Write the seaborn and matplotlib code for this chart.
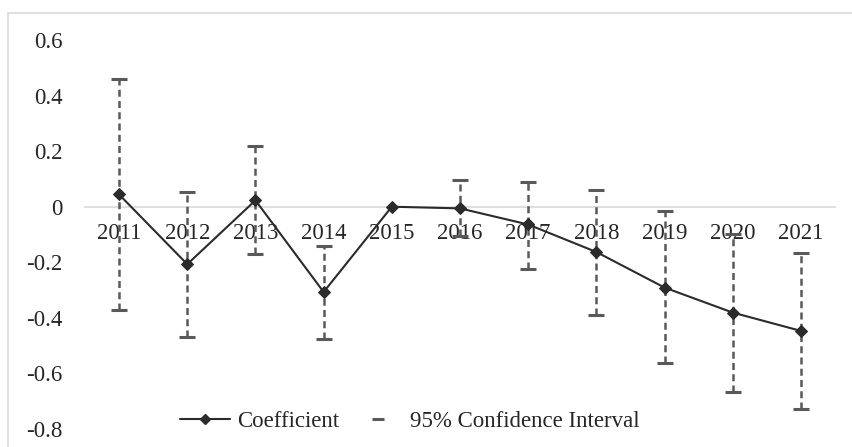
import numpy as np
import pandas as pd
import matplotlib
matplotlib.use("Agg")
import matplotlib.pyplot as plt
from matplotlib.lines import Line2D
from matplotlib.patches import Rectangle
import seaborn as sns

# Event-study estimates by year (2015 is the reference year)
years = ["2011", "2012", "2013", "2014", "2015", "2016",
         "2017", "2018", "2019", "2020", "2021"]
coef = [0.044, -0.207, 0.023, -0.307, 0.0, -0.006,
        -0.064, -0.163, -0.291, -0.381, -0.447]
ci_upper = [0.46, 0.054, 0.22, -0.14, np.nan, 0.096,
            0.09, 0.059, -0.016, -0.10, -0.168]
ci_lower = [-0.37, -0.47, -0.17, -0.477, np.nan, -0.107,
            -0.225, -0.39, -0.564, -0.667, -0.727]
y_ticks = [0.6, 0.4, 0.2, 0.0, -0.2, -0.4, -0.6, -0.8]
y_tick_labels = ["0.6", "0.4", "0.2", "0", "-0.2", "-0.4", "-0.6", "-0.8"]

sns.set_theme(style="white")
plt.rcParams["font.family"] = ["Liberation Serif", "DejaVu Serif"]

df = pd.DataFrame({"pos": np.arange(len(years)), "coef": coef,
                   "lo": ci_lower, "hi": ci_upper})

fig = plt.figure(figsize=(8.52, 4.47), dpi=100)
ax = fig.add_axes([85 / 852, 1 - 429 / 447, 750 / 852, 389 / 447])

ci_color = "#595959"
line_color = "#2b2b2b"
text_color = "#262626"
fs = 16.5

# Dashed confidence-interval whiskers with flat caps
ci = df.dropna()
ax.vlines(ci["pos"], ci["lo"], ci["hi"], colors=ci_color,
          linestyles=(0, (2.8, 1.7)), linewidth=1.8, zorder=2)
ax.plot(ci["pos"], ci["hi"], ls="none", marker="_", ms=11, mew=2.2,
        color=ci_color, zorder=2)
ax.plot(ci["pos"], ci["lo"], ls="none", marker="_", ms=11, mew=2.2,
        color=ci_color, zorder=2)

# Coefficient line
sns.lineplot(data=df, x="pos", y="coef", ax=ax, color=line_color,
             marker="D", markersize=6, markeredgecolor=line_color,
             linewidth=1.5, zorder=3, legend=False)

ax.set_xlim(-0.5, len(years) - 0.5)
ax.set_ylim(-0.8, 0.6)
ax.set_xticks(df["pos"])
ax.set_xticklabels(years)
ax.set_yticks(y_ticks)
ax.set_yticklabels(y_tick_labels)
ax.set_xlabel("")
ax.set_ylabel("")

for side in ["top", "right", "left"]:
    ax.spines[side].set_visible(False)
ax.spines["bottom"].set_position(("data", 0))
ax.spines["bottom"].set_color("#d9d9d9")
ax.spines["bottom"].set_linewidth(1.2)
ax.spines["bottom"].set_zorder(1)
ax.tick_params(axis="x", length=0, pad=12, labelsize=fs, colors=text_color)
ax.tick_params(axis="y", length=0, pad=16, labelsize=fs, colors=text_color)
for lbl in ax.get_yticklabels():
    lbl.set_horizontalalignment("right")
ax.patch.set_alpha(0)

# Light chart-area border
fig.patches.append(Rectangle((8 / 852, -0.05), 1.0, 1.05 - 13 / 447,
                             transform=fig.transFigure, fill=False,
                             edgecolor="#d9d9d9", linewidth=1.2))

handles = [
    Line2D([], [], color=line_color, marker="D", markersize=5, linewidth=1.5),
    Line2D([], [], color=ci_color, ls="none", marker="_", markersize=9, mew=2.2),
]
fig.legend(handles, ["Coefficient", "95% Confidence Interval"],
           loc="center", bbox_to_anchor=(410 / 852, 1 - 421 / 447),
           ncol=2, frameon=False, fontsize=fs, handlelength=2.2,
           handletextpad=0.3, columnspacing=0.6, labelcolor=text_color)

fig.savefig("out.png", dpi=100, facecolor="white")
